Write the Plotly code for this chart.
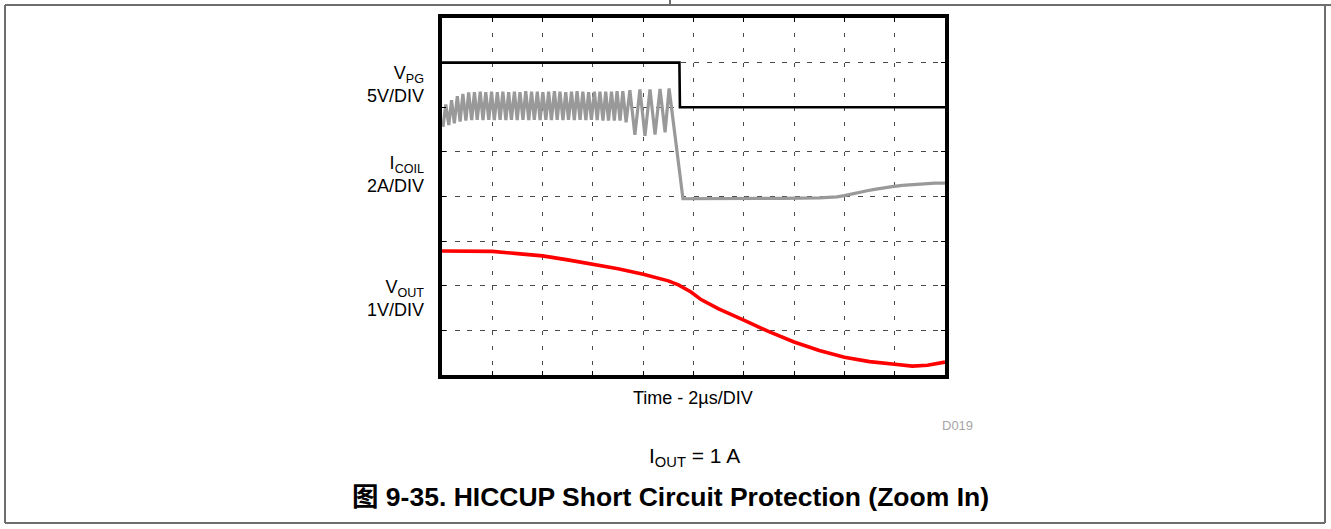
import plotly.graph_objects as go

# Scope capture: time in µs (10 div x 2 µs), vertical position in divisions (0-8)
FONT = "Liberation Sans, Arial, Noto Sans CJK SC, sans-serif"

# Power-good signal
vpg_t = [0.0, 9.44, 9.46, 20.0]
vpg_v = [7.0, 7.0, 6.0, 6.0]

# Inductor current: switching ripple, wider swings, then collapse after PG drops
icoil_t = [0.04, 0.15, 0.27, 0.38, 0.49, 0.61, 0.72, 0.83, 0.95, 1.06,
           1.18, 1.29, 1.40, 1.52, 1.63, 1.74, 1.86, 1.97, 2.08, 2.20,
           2.31, 2.42, 2.54, 2.65, 2.76, 2.88, 2.99, 3.10, 3.22, 3.33,
           3.45, 3.56, 3.67, 3.79, 3.90, 4.01, 4.13, 4.24, 4.35, 4.47,
           4.58, 4.69, 4.81, 4.92, 5.03, 5.15, 5.26, 5.37, 5.49, 5.60,
           5.72, 5.83, 5.94, 6.06, 6.17, 6.28, 6.40, 6.51, 6.62, 6.74,
           6.85, 6.96, 7.08, 7.19, 7.32, 7.47, 7.67, 7.87, 8.07, 8.27,
           8.47, 8.67, 8.87, 9.03, 9.58, 10.5, 12.0, 13.5, 15.0, 15.7,
           16.0, 16.3, 16.6, 16.9, 17.2, 17.5, 17.9, 18.3, 18.7, 19.2,
           19.6, 20.0]
icoil_v = [5.56, 6.06, 5.60, 6.16, 5.64, 6.25, 5.68, 6.30, 5.70, 6.33,
           5.71, 6.34, 5.72, 6.35, 5.71, 6.34, 5.72, 6.35, 5.71, 6.34,
           5.72, 6.35, 5.71, 6.34, 5.72, 6.35, 5.71, 6.34, 5.72, 6.36,
           5.71, 6.35, 5.72, 6.35, 5.71, 6.34, 5.72, 6.35, 5.71, 6.36,
           5.72, 6.35, 5.71, 6.34, 5.72, 6.35, 5.71, 6.36, 5.72, 6.35,
           5.71, 6.34, 5.72, 6.35, 5.71, 6.35, 5.70, 6.35, 5.70, 6.35,
           5.70, 6.36, 5.70, 6.36, 5.66, 6.38, 5.38, 6.40, 5.36, 6.40,
           5.39, 6.41, 5.44, 6.42, 3.95, 3.95, 3.95, 3.96, 3.97, 3.99,
           4.02, 4.06, 4.10, 4.13, 4.16, 4.19, 4.22, 4.25, 4.27, 4.29,
           4.30, 4.30]

# Output voltage
vout_t = [0.0, 1.0, 2.0, 3.0, 4.0, 5.0, 6.0, 7.0, 8.0, 8.5, 9.0, 9.4,
          9.9, 10.3, 11.0, 12.0, 13.0, 14.0, 15.0, 16.0, 17.0, 18.0,
          18.7, 19.3, 20.0]
vout_v = [2.78, 2.78, 2.77, 2.72, 2.67, 2.58, 2.49, 2.38, 2.26, 2.19,
          2.11, 2.02, 1.86, 1.69, 1.48, 1.23, 0.97, 0.74, 0.55, 0.40,
          0.30, 0.24, 0.20, 0.22, 0.29]

# Channel names and scales shown beside the graticule
channel_names = ["V<sub>PG</sub>", "I<sub>COIL</sub>", "V<sub>OUT</sub>"]
channel_scales = ["5V/DIV", "2A/DIV", "1V/DIV"]

W, H = 1331, 529
L, R, T, B = 442, 945, 18, 375   # plot area in pixels


def px(x):
    return (x - L) / (R - L)


def py(y):
    return (B - y) / (B - T)


fig = go.Figure()
fig.add_trace(go.Scatter(x=icoil_t, y=icoil_v, mode="lines",
                         line=dict(color="#999999", width=3.2),
                         hoverinfo="skip"))
fig.add_trace(go.Scatter(x=vpg_t, y=vpg_v, mode="lines",
                         line=dict(color="#000000", width=2.6),
                         hoverinfo="skip"))
fig.add_trace(go.Scatter(x=vout_t, y=vout_v, mode="lines",
                         line=dict(color="#ff0000", width=3.6),
                         hoverinfo="skip"))

axis_common = dict(showline=True, linecolor="black", linewidth=3.5,
                   mirror="ticks", ticks="inside", ticklen=4,
                   tickcolor="black", tickwidth=1, showticklabels=False,
                   zeroline=False, showgrid=True, gridcolor="#4a4a4a",
                   gridwidth=1, fixedrange=True)

fig.update_xaxes(range=[0, 20], dtick=2, tick0=0, griddash="4px,10.9px",
                 **axis_common)
fig.update_yaxes(range=[0, 8], dtick=1, tick0=0, griddash="5px,7.6px",
                 **axis_common)

ann = []


def label(text, x, y, size, xanchor="center", color="black", bold=False,
          align="center"):
    if bold:
        text = "<b>" + text + "</b>"
    ann.append(dict(text=text, x=px(x), y=py(y), xref="paper", yref="paper",
                    xanchor=xanchor, yanchor="middle", showarrow=False,
                    align=align,
                    font=dict(family=FONT, size=size, color=color)))


# Channel labels, one two-line block per trace
for name, scale, yc in zip(channel_names, channel_scales, [84, 174, 298]):
    label(name + "<br>" + scale, 426, yc, 18, xanchor="right", align="right")

label("Time - 2µs/DIV", 693, 398, 18)
label("D019", 957, 425, 13, color="#a6a6a6")
label("I<sub>OUT</sub> = 1 A", 694, 457, 21)
label("图 9-35. HICCUP Short Circuit Protection (Zoom In)", 670, 497, 26.5,
      bold=True)

# Figure frame
frame_col = "#6e6e6e"
shapes = [
    dict(type="line", x0=px(5), x1=px(W), y0=py(5), y1=py(5)),
    dict(type="line", x0=px(670), x1=px(670), y0=py(0), y1=py(5)),
    dict(type="line", x0=px(5), x1=px(5), y0=py(5), y1=py(523)),
    dict(type="line", x0=px(1325), x1=px(1325), y0=py(5), y1=py(523)),
    dict(type="line", x0=px(5), x1=px(1325), y0=py(523), y1=py(523)),
]
for s in shapes:
    s.update(xref="paper", yref="paper", line=dict(color=frame_col, width=2))

fig.update_layout(width=W, height=H, autosize=False,
                  margin=dict(l=L, r=W - R, t=T, b=H - B, pad=0),
                  paper_bgcolor="white", plot_bgcolor="white",
                  showlegend=False, annotations=ann, shapes=shapes,
                  font=dict(family=FONT))

fig.write_html("out.html", config={"displayModeBar": False})
